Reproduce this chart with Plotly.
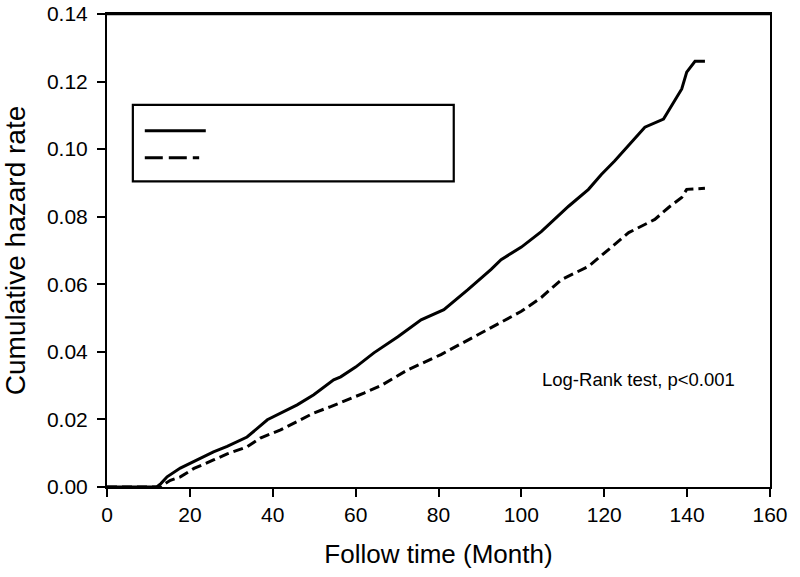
import plotly.graph_objects as go

# cumulative hazard (months, rate)
months_a = [0, 12, 13, 14.5, 17.7, 21, 25.7, 29, 33.8, 38.7, 42, 45.9, 49.9, 54.7, 56.4, 60,
            64.4, 70.2, 75.8, 81.3, 87.1, 92.7, 95.1, 100, 104.8, 111.4, 116.2, 119.3, 122.5,
            127.3, 129.8, 134.3, 138.7, 139.9, 141.9, 144.3]
hazard_a = [0, 0, 0.001, 0.003, 0.0056, 0.0075, 0.0104, 0.012, 0.0148, 0.0199, 0.022, 0.0243,
            0.0273, 0.0317, 0.0326, 0.0355, 0.0397, 0.0445, 0.0495, 0.0525, 0.0584, 0.0644,
            0.0673, 0.071, 0.0756, 0.0831, 0.0881, 0.0925, 0.0965, 0.1029, 0.1065, 0.1089,
            0.1178, 0.1228, 0.126, 0.126]

months_b = [0, 13, 14, 15.3, 17.7, 21, 25.7, 29, 33.8, 37, 41.9, 46, 49.9, 54, 58.1, 62, 66.1,
            72.6, 80.6, 88.6, 95.1, 100, 104.8, 109.7, 116.2, 121.8, 125.9, 132.2, 135.6,
            138.7, 139.9, 144.3]
hazard_b = [0, 0, 0.001, 0.002, 0.003, 0.0055, 0.008, 0.0098, 0.0119, 0.0145, 0.0169, 0.0195,
            0.0219, 0.0238, 0.0258, 0.0278, 0.030, 0.0347, 0.0392, 0.0445, 0.0489, 0.052,
            0.0561, 0.0614, 0.0653, 0.0712, 0.0753, 0.0792, 0.0828, 0.0857, 0.0881, 0.0884]

x_ticks = [0, 20, 40, 60, 80, 100, 120, 140, 160]
y_ticks = [0.00, 0.02, 0.04, 0.06, 0.08, 0.10, 0.12, 0.14]

FONT = "Liberation Sans, Arial, sans-serif"

fig = go.Figure()
fig.add_trace(go.Scatter(x=months_a, y=hazard_a, mode="lines",
                         line=dict(color="black", width=3), showlegend=False))
fig.add_trace(go.Scatter(x=months_b, y=hazard_b, mode="lines",
                         line=dict(color="black", width=3, dash="10px,5px"), showlegend=False))

# top edge of the frame, drawn explicitly
fig.add_shape(type="line", xref="paper", yref="paper", x0=0, x1=1, y0=1, y1=1,
              line=dict(color="black", width=2.5), layer="above")

# legend box (labels are blank in the source)
fig.add_shape(type="rect", xref="paper", yref="paper", x0=0.039, x1=0.523, y0=0.646, y1=0.808,
              line=dict(color="black", width=2.2), fillcolor="white", layer="above")
fig.add_shape(type="line", xref="paper", yref="paper", x0=0.057, x1=0.149, y0=0.753, y1=0.753,
              line=dict(color="black", width=3))
fig.add_shape(type="line", xref="paper", yref="paper", x0=0.057, x1=0.139, y0=0.696, y1=0.696,
              line=dict(color="black", width=3, dash="18px,6px"))

fig.add_annotation(x=128.3, y=0.0317, text="Log-Rank test, p<0.001", showarrow=False,
                   xanchor="center", yanchor="middle", font=dict(size=18.5, color="black", family=FONT))

axis_common = dict(showline=True, linecolor="black", linewidth=2, mirror=True,
                   ticks="outside", ticklen=8, tickwidth=1.5, tickcolor="black",
                   showgrid=False, zeroline=False, automargin=False,
                   ticklabeloverflow="allow",
                   tickfont=dict(size=21, color="black", family=FONT))

fig.update_xaxes(range=[0, 160], tickvals=x_ticks,
                 title=dict(text="Follow time (Month)", font=dict(size=26, color="black", family=FONT),
                            standoff=20),
                 **axis_common)
fig.update_yaxes(range=[0, 0.14], tickvals=y_ticks, tickformat=".2f", ticklabelstandoff=5,
                 title=dict(text="Cumulative hazard rate", font=dict(size=28, color="black", family=FONT),
                            standoff=21),
                 **axis_common)

fig.update_layout(width=800, height=577,
                  margin=dict(l=107, r=30, t=14, b=90),
                  plot_bgcolor="white", paper_bgcolor="white",
                  font=dict(family=FONT, color="black"))

# drop the default 8px page margin so the figure sits at the window origin
fig.write_html("out.html", config={"displayModeBar": False},
               post_script="document.body.style.margin='0';")
